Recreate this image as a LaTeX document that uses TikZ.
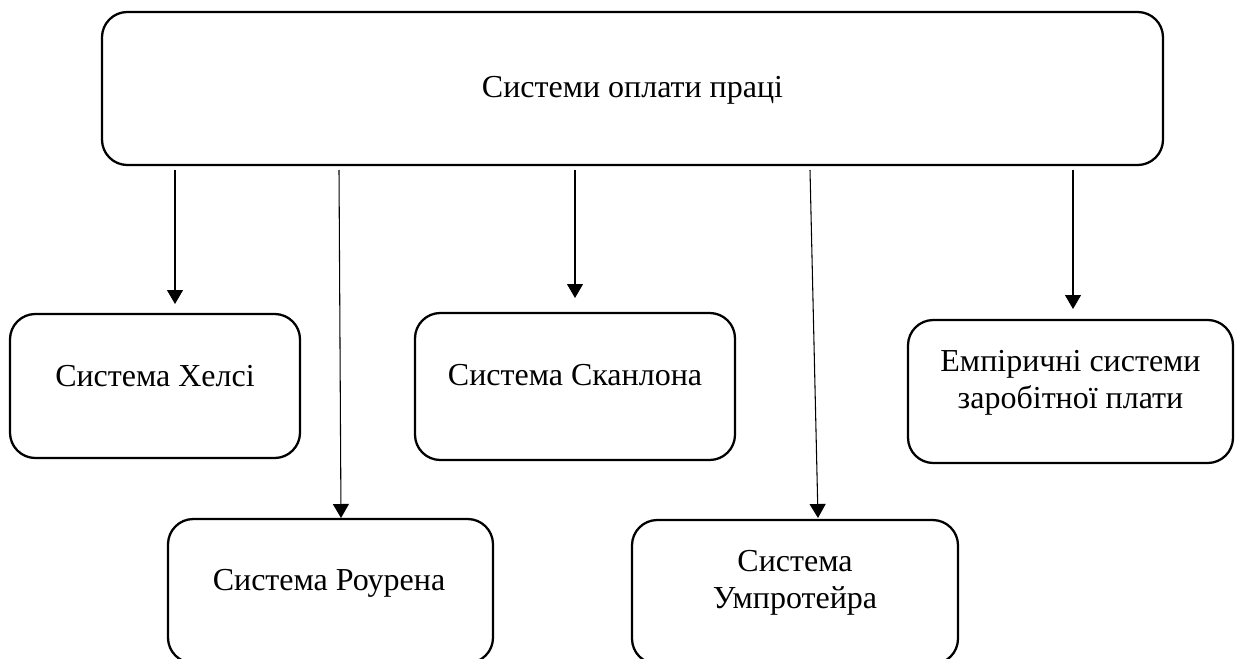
\documentclass[tikz,border=0pt]{standalone}
\usepackage{fontspec}
\setmainfont{Liberation Serif}
\usetikzlibrary{arrows.meta}
\tikzset{
  box/.style={draw, line width=1.7pt, rounded corners=19pt, inner sep=0pt},
  lbl/.style={anchor=base, align=center, inner sep=0pt, font=\fontsize{24}{27.5}\selectfont},
  arr/.style={line width=0.8pt, -{Triangle[length=10.5pt,width=12pt]}}
}
\begin{document}
\begin{tikzpicture}[x=0.75pt,y=-0.75pt]
\useasboundingbox (0,0) rectangle (1237,659);
\clip (0,0) rectangle (1237,659);
% boxes
\node[box, minimum width=795.75pt, minimum height=114.75pt] (top) at (632.5,88.5) {};
\node[box, minimum width=217.5pt, minimum height=108pt] (helsi) at (155,386) {};
\node[box, minimum width=240pt, minimum height=110.25pt] (skan) at (575,386.5) {};
\node[box, minimum width=243.75pt, minimum height=107.25pt] (emp) at (1070.5,391.5) {};
\node[box, minimum width=243.75pt, minimum height=108pt] (rour) at (330.5,591) {};
\node[box, minimum width=244.5pt, minimum height=108pt] (ump) at (795,592) {};
% texts
\node[lbl] (ttop) at (632.5,98) {Системи оплати праці};
\node[lbl] (thelsi) at (155,386) {Система Хелсі};
\node[lbl] (tskan) at (575,385) {Система Сканлона};
\node[lbl] (temp) at (1070.5,408) {Емпіричні системи\\заробітної плати};
\node[lbl] (trour) at (329,590) {Система Роурена};
\node[lbl] (tump) at (795,608) {Система\\Умпротейра};
% connector ends
\coordinate (s1) at (175,170); \coordinate (e1) at (175,304);
\coordinate (s2) at (339,170); \coordinate (e2) at (341,518);
\coordinate (s3) at (575,170); \coordinate (e3) at (575,298);
\coordinate (s4) at (810,170); \coordinate (e4) at (818,518);
\coordinate (s5) at (1073,170); \coordinate (e5) at (1073,309);
\draw[arr] (s1) -- (e1);
\draw[arr] (s2) -- (e2);
\draw[arr] (s3) -- (e3);
\draw[arr] (s4) -- (e4);
\draw[arr] (s5) -- (e5);
\end{tikzpicture}
\end{document}
